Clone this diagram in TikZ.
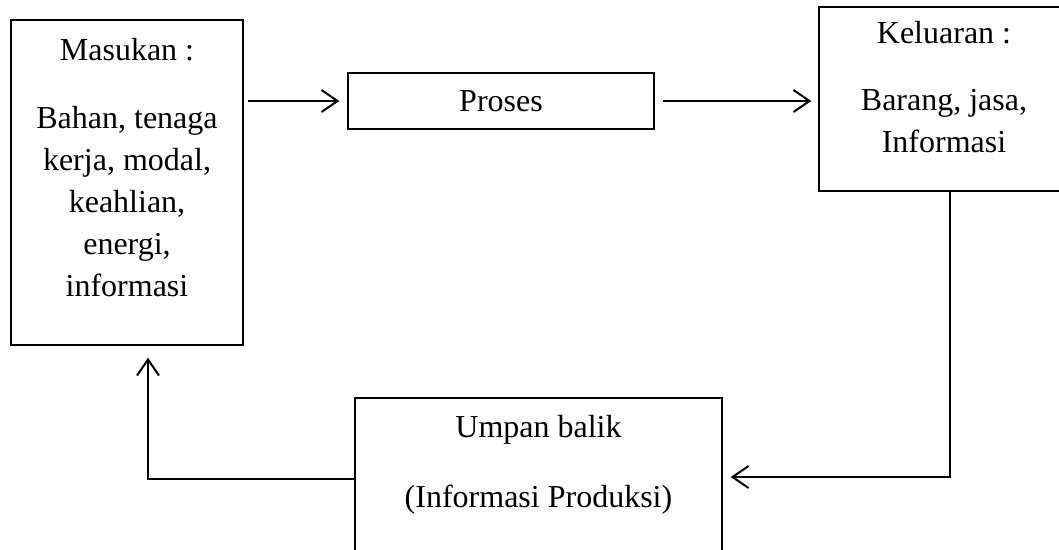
\documentclass[tikz,border=0pt]{standalone}
\usepackage{fontspec}
\setmainfont{Liberation Serif}
\usetikzlibrary{arrows.meta,calc}

\tikzset{
  blok/.style={draw=black, line width=1.5pt, rectangle, inner sep=0pt, fill=none},
  teks/.style={anchor=base, inner sep=0pt, font=\fontsize{32}{42}\selectfont},
  panah/.style={draw=black, line width=2pt,
    -{Straight Barb[length=16pt,width=22pt,line width=2pt]}},
  garis/.style={draw=black, line width=2pt},
}

\begin{document}
\begin{tikzpicture}[x=1pt, y=-1pt]
  \useasboundingbox (0,0) rectangle (1059,549);
  \clip (0,0) rectangle (1059,549);
  \fill[white] (0,0) rectangle (1059,549);

  % boxes
  \node[blok, minimum width=232pt, minimum height=325pt] (masukan) at (127,182.5) {};
  \node[blok, minimum width=306pt, minimum height=56pt,
        font=\fontsize{32}{42}\selectfont] (proses) at (501,101) {Proses};
  \node[blok, minimum width=262pt, minimum height=184pt] (keluaran) at (950,99) {};
  \node[blok, minimum width=367pt, minimum height=182pt] (umpan) at (538.5,489) {};

  % box texts
  \node[teks] (masukanjudul) at (127,60) {Masukan :};
  \node[teks] (masukanisi) at (127,128)
    {\begin{tabular}[t]{@{}c@{}}Bahan, tenaga\\ kerja, modal,\\ keahlian,\\ energi,\\ informasi\end{tabular}};
  \node[teks] (keluaranjudul) at (944,43) {Keluaran :};
  \node[teks] (keluaranisi) at (944,110)
    {\begin{tabular}[t]{@{}c@{}}Barang, jasa,\\ Informasi\end{tabular}};
  \node[teks] (umpanjudul) at (538.5,437) {Umpan balik};
  \node[teks] (umpanisi) at (538.5,507) {(Informasi Produksi)};

  % connectors
  \draw[panah, shorten <=4pt, shorten >=8pt] (masukan.east |- proses.west) -- (proses.west);
  \draw[panah, shorten <=8pt, shorten >=7pt] (proses.east) -- (proses.east -| keluaran.west);
  \draw[panah, shorten >=8pt] (keluaran.south) |- ([yshift=12pt]umpan.east);
  \draw[panah, shorten >=12pt] ([yshift=10pt]umpan.west) -| ([xshift=21pt]masukan.south);
\end{tikzpicture}
\end{document}
